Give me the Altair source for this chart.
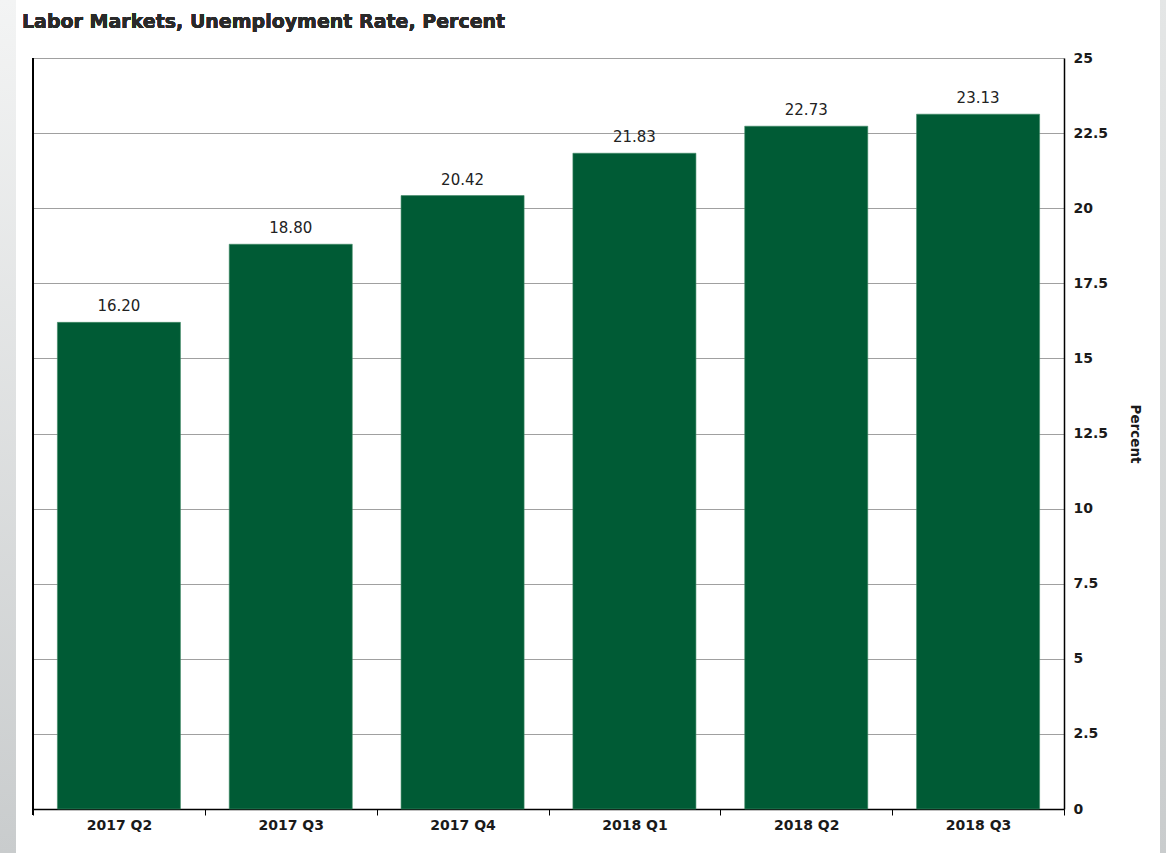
import altair as alt
import pandas as pd

quarters = ["2017 Q2", "2017 Q3", "2017 Q4", "2018 Q1", "2018 Q2", "2018 Q3"]
rates = [16.20, 18.80, 20.42, 21.83, 22.73, 23.13]
y_ticks = [0, 2.5, 5, 7.5, 10, 12.5, 15, 17.5, 20, 22.5, 25]
title_text = "Labor Markets, Unemployment Rate, Percent"

df = pd.DataFrame({"quarter": quarters, "rate": rates,
                   "label": [f"{v:.2f}" for v in rates]})

FONT = "DejaVu Sans"
W, H = 1031, 751
PAD_L, PAD_T = 33, 58

x_enc = alt.X("quarter:N", sort=quarters,
              scale=alt.Scale(paddingInner=0, paddingOuter=0),
              axis=alt.Axis(title=None, tickBand="extent", tickSize=6, tickColor="#000",
                            domainColor="#000", domainWidth=1.5, labelFont=FONT,
                            labelFontSize=14, labelFontWeight="bold", labelColor="#1a1a1a",
                            labelPadding=3, labelAngle=0))
y_enc = alt.Y("rate:Q", scale=alt.Scale(domain=[0, 25], nice=False),
              axis=alt.Axis(orient="right", title="Percent", values=y_ticks,
                            titleAngle=90, titleFont=FONT, titleFontSize=13.5,
                            titleFontWeight="bold", titleColor="#1a1a1a", titlePadding=20,
                            labelFont=FONT, labelFontSize=14, labelFontWeight="bold",
                            labelColor="#1a1a1a", labelPadding=9, tickSize=0,
                            domainColor="#000", domainWidth=1.5,
                            grid=True, gridColor="#a0a0a0", gridWidth=1.2,
                            labelExpr="datum.value"))

bars = alt.Chart(df).mark_bar(color="#005b35", stroke="#3f8a66", strokeWidth=0.6,
                              width=alt.RelativeBandSize(0.716)).encode(x=x_enc, y=y_enc)
texts = alt.Chart(df).mark_text(font=FONT, fontSize=15, color="#222", baseline="bottom", dy=-8).encode(
    x=alt.X("quarter:N", sort=quarters), y="rate:Q", text="label:N")

left_line = alt.Chart(df).mark_rule(color="#000", strokeWidth=1.5).encode(
    x=alt.value(0), y=alt.value(0), y2=alt.value(H + 6))

title = alt.Chart(df).mark_text(font=FONT, fontSize=19, fontWeight="bold", color="#2a2a2a",
                                align="left", baseline="alphabetic").encode(
    x=alt.value(22 - PAD_L), y=alt.value(28 - PAD_T), text=alt.value(title_text))

left_strip = alt.Chart(df).mark_rect(
    fill=alt.Gradient(gradient="linear", x1=0, y1=0, x2=0, y2=1,
                      stops=[alt.GradientStop(offset=0, color="#f3f4f4"),
                             alt.GradientStop(offset=1, color="#c9cccd")])
).encode(x=alt.value(-PAD_L), x2=alt.value(16 - PAD_L),
         y=alt.value(-PAD_T), y2=alt.value(853 - PAD_T))
right_strip = alt.Chart(df).mark_rect(
    fill=alt.Gradient(gradient="linear", x1=0, y1=0, x2=0, y2=1,
                      stops=[alt.GradientStop(offset=0, color="#e4e6e6"),
                             alt.GradientStop(offset=1, color="#c9cccd")])
).encode(x=alt.value(1160 - PAD_L), x2=alt.value(1166 - PAD_L),
         y=alt.value(-PAD_T), y2=alt.value(853 - PAD_T))

chart = alt.layer(left_strip, right_strip, bars, texts, left_line, title).properties(
    width=W, height=H,
    padding={"left": PAD_L, "top": PAD_T, "right": 1166 - PAD_L - W, "bottom": 853 - PAD_T - H},
    autosize=alt.AutoSizeParams(type="none"),
    background="white",
).configure_view(stroke=None)

chart.save("out.html", embed_options={"renderer": "svg", "actions": False})
